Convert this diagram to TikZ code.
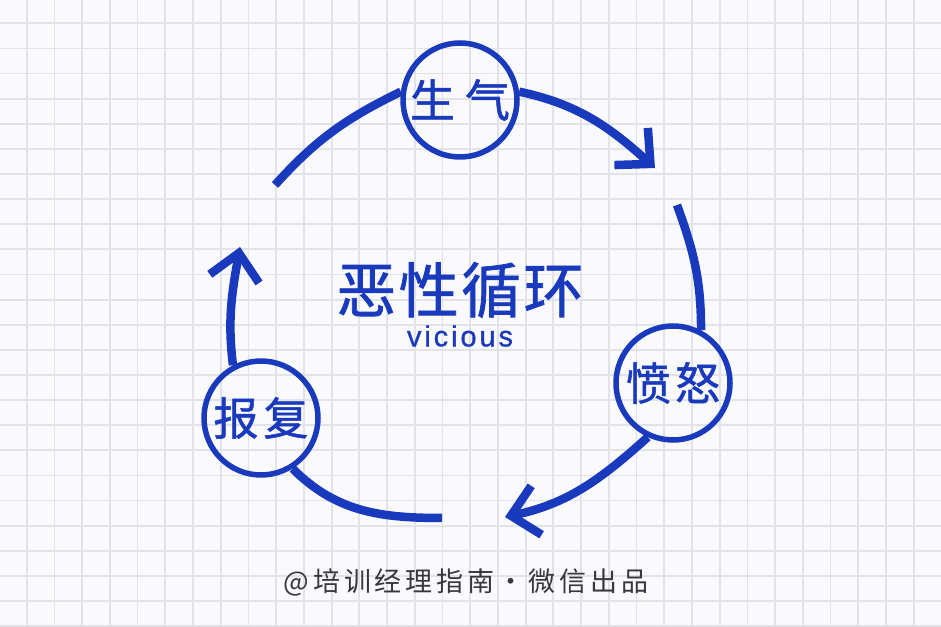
\documentclass[tikz,border=0pt]{standalone}
\usepackage{fontspec}
\newfontfamily\cjk{Noto Sans CJK SC}[FakeBold=1.2]
\newfontfamily\latinhand{Liberation Sans}[FakeBold=1]
\usetikzlibrary{arrows.meta}
\definecolor{inkblue}{RGB}{26,58,190}
\definecolor{gridgray}{RGB}{226,226,233}
\definecolor{paper}{RGB}{250,250,252}
\definecolor{creditgray}{RGB}{55,55,60}

\begin{document}
\begin{tikzpicture}[
x=1pt, y=1pt,
stage/.style={draw=inkblue, line width=5.5pt, circle, minimum size=114pt, inner sep=0pt, text=inkblue, font=\cjk\fontsize{45}{50}\selectfont},
cycleline/.style={draw=inkblue, line width=8.5pt},
arrow/.style={cycleline, -{Straight Barb[length=26pt, width=50pt]}},
gridline/.style={draw=gridgray, line width=1.8pt}
]
\useasboundingbox (0,0) rectangle (941,626);
\fill[paper] (0,0) rectangle (941,626);
\begin{scope}
\clip (0,0) rectangle (941,626);
\draw[gridline, xstep=27.72pt, ystep=25.12pt, shift={(-1.02,24.94)}] (0,-30) grid (960,640);
\end{scope}

\node[stage] (shengqi) at (460,526) {生\hspace{10pt}气};
\node[stage] (fennu) at (673,243) {愤\hspace{4pt}怒};
\node[stage] (baofu) at (261,208) {报\hspace{5pt}复};

\node[text=inkblue, font=\cjk\fontsize{60}{64}\selectfont\addfontfeature{LetterSpace=4}] (title) at (460,336) {恶性循环};
\node[text=inkblue, font=\latinhand\fontsize{29}{32}\selectfont\addfontfeature{LetterSpace=10}] (subtitle) at (460,290) {vicious};
\node[text=creditgray, font=\cjk\fontsize{27}{30}\selectfont\addfontfeature{FakeBold=0,LetterSpace=14}] (credit) at (466,44) {@培训经理指南·微信出品};

\coordinate (topstart) at (275,441);
\coordinate (toptip) at (655,458);
\coordinate (rightstart) at (677,421);
\coordinate (bottomtip) at (505,109);
\coordinate (bottomend) at (442,108);
\coordinate (lefttip) at (240,379);

\draw[cycleline] (topstart) to[out=48, in=206] (shengqi.172);
\draw[arrow] (shengqi.8) to[out=-12, in=138] (toptip);
\draw[cycleline] (rightstart) to[out=-70, in=90] (fennu.62);
\draw[arrow] (fennu.245) to[out=222, in=12] (bottomtip);
\draw[cycleline] (baofu.-58) to[out=-45, in=180] (bottomend);
\draw[arrow] (baofu.118) to[out=97, in=-100] (lefttip);

\end{tikzpicture}
\end{document}
